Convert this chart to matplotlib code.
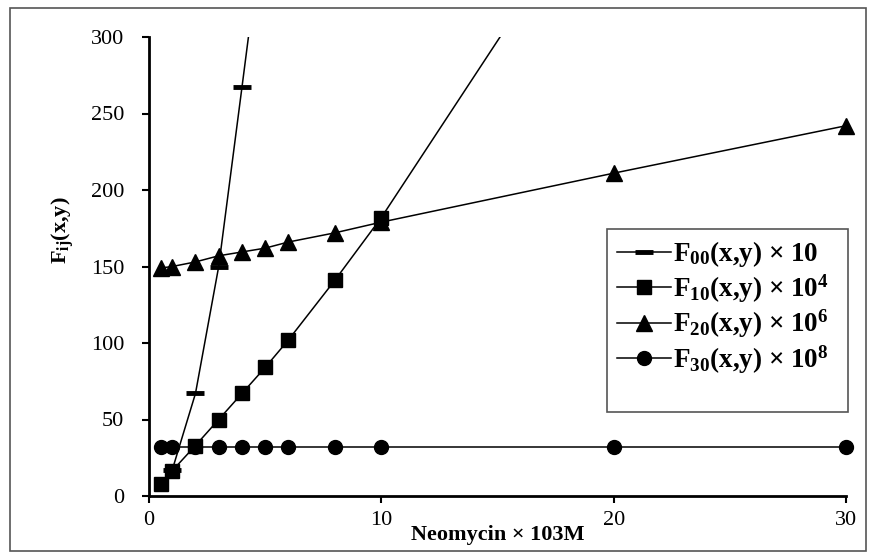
import matplotlib
matplotlib.use("Agg")
import matplotlib.pyplot as plt
from matplotlib.patches import Rectangle

plt.rcParams['font.family'] = ['Liberation Serif', 'DejaVu Serif']
plt.rcParams['mathtext.fontset'] = 'custom'
plt.rcParams['mathtext.rm'] = 'Liberation Serif:bold'
plt.rcParams['mathtext.it'] = 'Liberation Serif:bold'
plt.rcParams['mathtext.bf'] = 'Liberation Serif:bold'

# Data
x00 = [1, 2, 3, 4, 5]
f00 = [17, 67, 150, 267, 385]

x10 = [0.5, 1, 2, 3, 4, 5, 6, 8, 10, 20]
f10 = [8, 16.5, 33, 50, 67, 84, 102, 141, 182, 413]

x20 = [0.5, 1, 2, 3, 4, 5, 6, 8, 10, 20, 30]
f20 = [149, 150, 153, 157, 159.5, 162, 166, 172, 179, 211, 242]

x30 = [0.5, 1, 2, 3, 4, 5, 6, 8, 10, 20, 30]
f30 = [32, 32, 32, 32, 32, 32, 32, 32, 32, 32, 32]

labels = ['F$_{00}$(x,y) × 10',
          'F$_{10}$(x,y) × 10$^{4}$',
          'F$_{20}$(x,y) × 10$^{6}$',
          'F$_{30}$(x,y) × 10$^{8}$']

W, H = 877, 558
fig = plt.figure(figsize=(W / 100, H / 100), dpi=100)
ax = fig.add_axes([149 / W, 1 - 496 / H, (846 - 149) / W, (496 - 37) / H])

lw = 1.1
ax.plot(x00, f00, color='black', lw=lw, marker='_', ms=13, mew=3.5, label=labels[0])
ax.plot(x10, f10, color='black', lw=lw, marker='s', ms=10.5, label=labels[1])
ax.plot(x20, f20, color='black', lw=lw, marker='^', ms=11, label=labels[2], clip_on=False)
ax.plot(x30, f30, color='black', lw=lw, marker='o', ms=10, label=labels[3], clip_on=False)

ax.set_xlim(0, 30)
ax.set_ylim(0, 300)
ax.set_xticks([0, 10, 20, 30])
ax.set_yticks([0, 50, 100, 150, 200, 250, 300])
ax.spines['top'].set_visible(False)
ax.spines['right'].set_visible(False)
for s in ['left', 'bottom']:
    ax.spines[s].set_linewidth(2)
ax.tick_params(direction='out', length=5, width=1.5, labelsize=16)
ax.tick_params(axis='y', pad=13)
ax.tick_params(axis='x', pad=6)

ax.set_xlabel('Neomycin × 103M', fontsize=16, fontweight='bold', labelpad=-4)
ax.set_ylabel('F$_{ij}$(x,y)', fontsize=16, fontweight='bold')
ax.yaxis.set_label_coords((76 - 149) / (846 - 149), (496 - 230) / (496 - 37))

leg = fig.legend(loc='upper left', bbox_to_anchor=(617 / W, 1 - 239 / H),
                 prop={'family': 'Liberation Serif', 'weight': 'bold', 'size': 19.5},
                 frameon=False, handlelength=2.0, handletextpad=0.05,
                 labelspacing=0.12, borderpad=0, borderaxespad=0)

# legend box
fig.patches.append(Rectangle((607 / W, 1 - 412 / H), (848 - 607) / W, (412 - 229) / H,
                             transform=fig.transFigure, fill=False,
                             edgecolor='#555555', lw=1.2))
# outer border
fig.patches.append(Rectangle((10 / W, 1 - 551 / H), (866 - 10) / W, (551 - 8) / H,
                             transform=fig.transFigure, fill=False,
                             edgecolor='#555555', lw=1.2))

fig.savefig('out.png', dpi=100)
